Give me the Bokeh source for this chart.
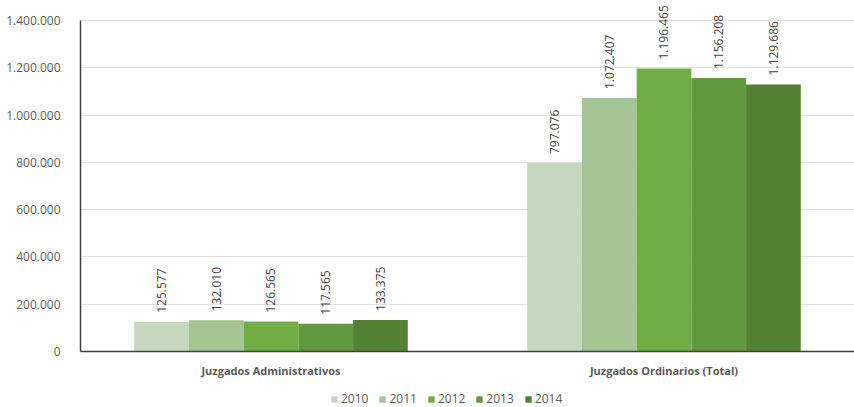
from bokeh.plotting import figure
from bokeh.models import ColumnDataSource, FactorRange, FixedTicker, Legend, LegendItem, LabelSet
from bokeh.core.properties import value
from bokeh.transform import dodge
from bokeh.layouts import column
from bokeh.embed import file_html
from bokeh.resources import INLINE

categories = ["Juzgados Administrativos", "Juzgados Ordinarios (Total)"]
years = ["2010", "2011", "2012", "2013", "2014"]
v2010 = [125577, 797076]
v2011 = [132010, 1072407]
v2012 = [126565, 1196465]
v2013 = [117565, 1156208]
v2014 = [133375, 1129686]
colors = ["#C5D8BD", "#A3C594", "#70AD47", "#62993E", "#548235"]
y_ticks = [0, 200000, 400000, 600000, 800000, 1000000, 1200000, 1400000]
y_tick_labels = ["0", "200.000", "400.000", "600.000", "800.000", "1.000.000", "1.200.000", "1.400.000"]

series = [v2010, v2011, v2012, v2013, v2014]

def fmt(v):
    return f"{v:,}".replace(",", ".")

FONT = "Open Sans"

p = figure(x_range=FactorRange(*categories, range_padding=0, factor_padding=0.0315),
           y_range=(0, 1476000), width=854, height=388,
           output_backend="svg", toolbar_location=None,
           min_border_left=80, min_border_right=0, min_border_top=2, min_border_bottom=37)
p.outline_line_color = None
p.background_fill_color = "white"
p.border_fill_color = "white"

# legend strip (separate figure below the chart)
p2 = figure(width=854, height=19, x_range=FactorRange(*categories), y_range=(0, 1),
            x_axis_type=None, y_axis_type=None, output_backend="svg",
            toolbar_location=None, min_border=0)
p2.outline_line_color = None
p2.xgrid.grid_line_color = None
p2.ygrid.grid_line_color = None

bw = 0.1436
items = []
for i, (yr, vals, col) in enumerate(zip(years, series, colors)):
    src = ColumnDataSource(dict(cat=categories, val=vals, lab=[fmt(v) for v in vals]))
    off = (i - 2) * bw
    p.vbar(x=dodge("cat", off, range=p.x_range), top="val", width=bw, source=src,
           fill_color=col, line_color=None)
    labels = LabelSet(x=dodge("cat", off, range=p.x_range), y="val", text="lab", source=src,
                      angle=1.5708, x_offset=0, y_offset=9, text_font=value(FONT),
                      text_font_size="12px", text_color="#404040",
                      text_align="left", text_baseline="middle")
    p.add_layout(labels)
    lr = p2.vbar(x="cat", top="val", width=bw, source=src, fill_color=col,
                 line_color=None, visible=False)
    items.append(LegendItem(label=yr, renderers=[lr]))

p.yaxis.ticker = FixedTicker(ticks=y_ticks)
p.yaxis.bounds = (0, 1400000)
p.yaxis.major_label_overrides = {t: l for t, l in zip(y_ticks, y_tick_labels)}
p.yaxis.major_label_text_font = FONT
p.yaxis.major_label_text_font_size = "12px"
p.yaxis.major_label_text_color = "#595959"
p.yaxis.major_tick_line_color = None
p.yaxis.minor_tick_line_color = None
p.yaxis.major_label_standoff = 14
p.yaxis.axis_line_color = "#404040"
p.yaxis.axis_line_width = 1.5

p.xaxis.major_label_text_font = FONT
p.xaxis.major_label_text_font_size = "11px"
p.xaxis.major_label_text_font_style = "bold"
p.xaxis.major_label_text_color = "#595959"
p.xaxis.major_tick_line_color = None
p.xaxis.axis_line_color = "#404040"
p.xaxis.axis_line_width = 1.5
p.xaxis.major_label_standoff = 5

p.xgrid.grid_line_color = None
p.ygrid.grid_line_color = "#E0E0E0"
p.ygrid.grid_line_width = 1

legend = Legend(items=items, orientation="horizontal", location=(250, 0),
                label_text_font=FONT, label_text_font_size="12px", label_text_color="#595959",
                glyph_width=8, glyph_height=8, spacing=10, label_standoff=3,
                padding=0, margin=0, border_line_color=None, background_fill_alpha=0,
                inactive_fill_alpha=0)
p2.add_layout(legend, "center")

open("out.html", "w").write(file_html(column(p, p2, spacing=0), INLINE))
